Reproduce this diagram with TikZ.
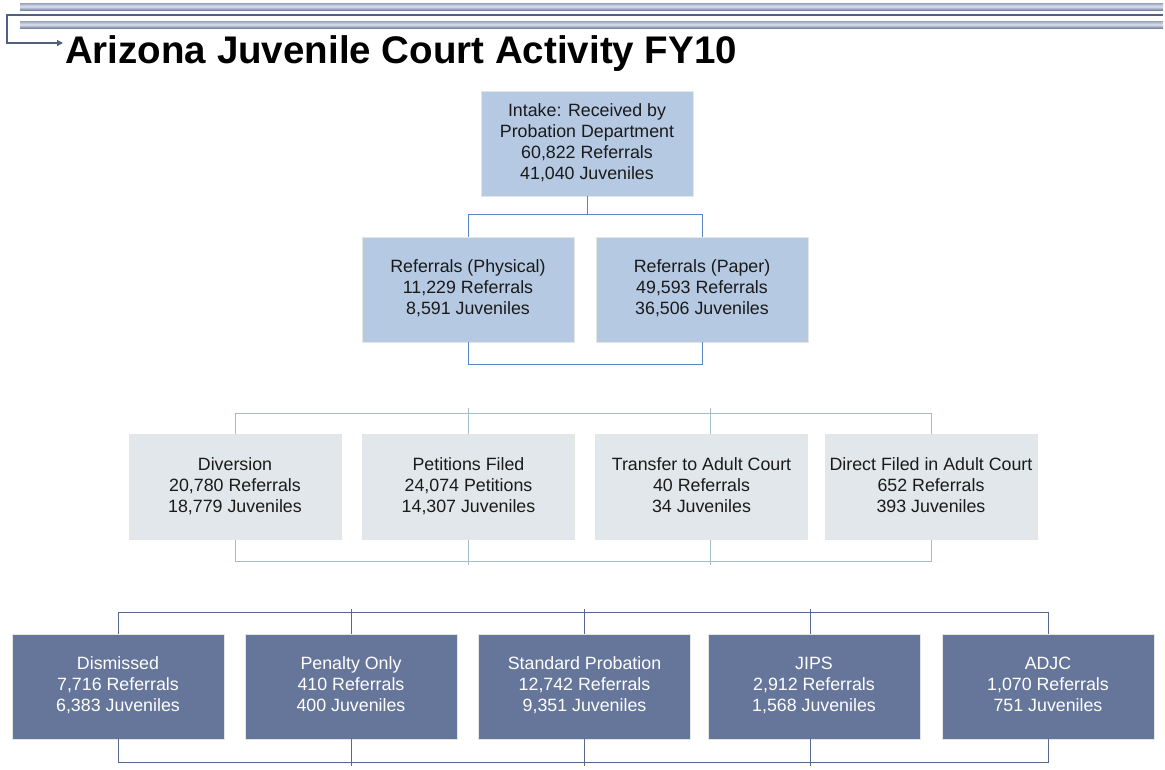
\documentclass[tikz,border=0pt]{standalone}
\usepackage{fontspec}
\setmainfont{Liberation Sans}
\usetikzlibrary{arrows.meta}
\definecolor{lvlAfill}{HTML}{B5C9E3}
\definecolor{lvlCfill}{HTML}{E1E7EA}
\definecolor{lvlDfill}{HTML}{66769A}
\definecolor{boxborder}{HTML}{E4E6E2}
\definecolor{conA}{HTML}{5B84C4}
\definecolor{conC}{HTML}{A5BCCB}
\definecolor{conD}{HTML}{56688B}
\definecolor{txtdark}{HTML}{1A1A1A}
\definecolor{barTop}{HTML}{97A3BC}
\definecolor{barMid}{HTML}{DCE3EE}
\definecolor{barBot}{HTML}{7B88A5}
\definecolor{hline}{HTML}{50617F}
\begin{document}
\begin{tikzpicture}[x=1pt,y=-1pt,
  box/.style={rectangle, minimum width=212pt, minimum height=105pt, inner sep=0pt,
    align=center, font=\fontsize{17.8}{21}\selectfont, draw=boxborder, line width=0.8pt},
  boxA/.style={box, fill=lvlAfill, text=txtdark},
  boxC/.style={box, fill=lvlCfill, text=txtdark},
  boxD/.style={box, fill=lvlDfill, text=white},
  linkA/.style={draw=conA, line width=1pt},
  linkC/.style={draw=conC, line width=1pt},
  linkD/.style={draw=conD, line width=1pt},
  bar/.style={top color=barTop, bottom color=barBot, middle color=barMid}
]
\useasboundingbox (0,0) rectangle (1165,769);
% header bars
\shade[bar] (20,3) rectangle (1163,10);
\shade[bar] (20,21) rectangle (1163,28);
\coordinate (hstart) at (1163,15);
\coordinate (tip) at (63,43);
\draw[hline, line width=1.3pt, -{Triangle[length=6pt,width=6pt]}] (hstart) -- (7,15) -- (7,43) -- (tip);
\node[anchor=base west, inner sep=0pt, font=\fontsize{38.5}{40}\selectfont\bfseries] (title) at (65,63) {Arizona Juvenile Court Activity FY10};

% level 1
\node[boxA] (intake) at (587,143.5) {\strut Intake: Received by\\\strut Probation Department\\\strut 60,822 Referrals\\\strut 41,040 Juveniles};
% level 2
\node[boxA] (phys) at (468,289.5) {\strut Referrals (Physical)\\\strut 11,229 Referrals\\\strut 8,591 Juveniles};
\node[boxA] (paper) at (702,289.5) {\strut Referrals (Paper)\\\strut 49,593 Referrals\\\strut 36,506 Juveniles};
\draw[linkA] (intake.south) -- ++(0,19);
\draw[linkA] (phys.north) -- ++(0,-22) -| (paper.north);
\draw[linkA] (phys.south) -- ++(0,22) -| (paper.south);

% level 3
\node[boxC] (div) at (235,487) {\strut Diversion\\\strut 20,780 Referrals\\\strut 18,779 Juveniles};
\node[boxC] (pet) at (468.5,487) {\strut Petitions Filed\\\strut 24,074 Petitions\\\strut 14,307 Juveniles};
\node[boxC] (tra) at (701.5,487) {\strut Transfer to Adult Court\\\strut 40 Referrals\\\strut 34 Juveniles};
\node[boxC] (dir) at (931,487) {\strut Direct Filed in Adult Court\\\strut 652 Referrals\\\strut 393 Juveniles};
\draw[linkC] (div.north) -- ++(0,-21) -| (dir.north);
\draw[linkC] (pet.north) -- ++(0,-26);
\draw[linkC] ([xshift=8.5pt]tra.north) -- ++(0,-26);
\draw[linkC] (div.south) -- ++(0,22) -| (dir.south);
\draw[linkC] (pet.south) -- ++(0,25);
\draw[linkC] ([xshift=8.5pt]tra.south) -- ++(0,25);

% level 4
\node[boxD] (dis) at (118,686.5) {\strut Dismissed\\\strut 7,716 Referrals\\\strut 6,383 Juveniles};
\node[boxD] (pen) at (351,686.5) {\strut Penalty Only\\\strut 410 Referrals\\\strut 400 Juveniles};
\node[boxD] (std) at (584.5,686.5) {\strut Standard Probation\\\strut 12,742 Referrals\\\strut 9,351 Juveniles};
\node[boxD] (jips) at (814,686.5) {\strut JIPS\\\strut 2,912 Referrals\\\strut 1,568 Juveniles};
\node[boxD] (adjc) at (1048,686.5) {\strut ADJC\\\strut 1,070 Referrals\\\strut 751 Juveniles};
\draw[linkD] (dis.north) -- ++(0,-21) -| (adjc.north);
\draw[linkD] (pen.north) -- ++(0,-25);
\draw[linkD] (std.north) -- ++(0,-25);
\draw[linkD] ([xshift=-4pt]jips.north) -- ++(0,-25);
\draw[linkD] (dis.south) -- ++(0,23) -| (adjc.south);
\draw[linkD] (pen.south) -- ++(0,27);
\draw[linkD] (std.south) -- ++(0,27);
\draw[linkD] ([xshift=-4pt]jips.south) -- ++(0,27);
\end{tikzpicture}
\end{document}
